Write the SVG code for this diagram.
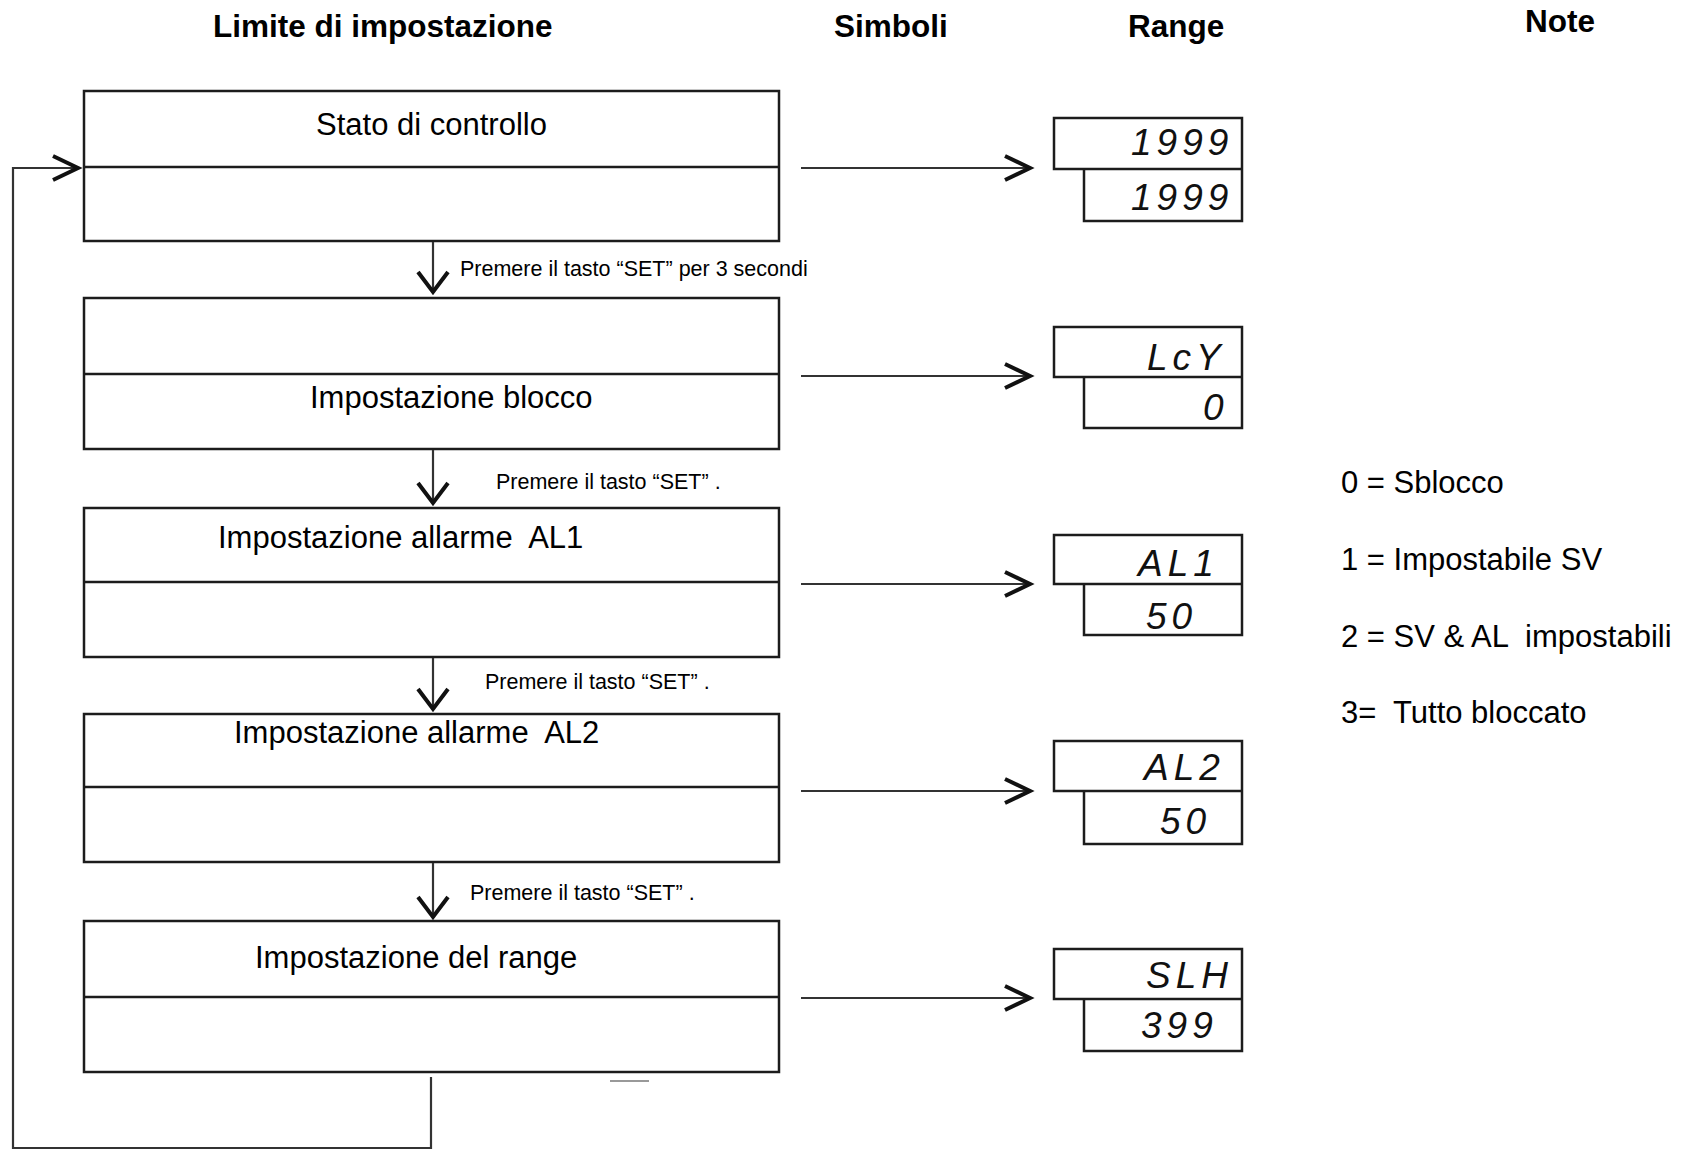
<svg xmlns="http://www.w3.org/2000/svg" width="1696" height="1152" viewBox="0 0 1696 1152">
<style>
.box{fill:none;stroke:#1c1c1c;stroke-width:2.5}
.t{font-family:"Liberation Sans",Arial,sans-serif;fill:#000;white-space:pre}
.hdr{font-weight:bold;font-size:31.5px}
.lbl{font-size:31px}
.sm{font-size:21.5px}
.seg{font-family:"Liberation Sans",Arial,sans-serif;font-style:italic;font-size:37px;letter-spacing:5px;fill:#111}
.conn{fill:none;stroke:#333;stroke-width:2.2}
</style>
<defs>
<marker id="chevD" markerUnits="userSpaceOnUse" markerWidth="50" markerHeight="50" viewBox="-30 -25 50 50" refX="0" refY="0" orient="auto" overflow="visible">
<path d="M-20,-15 L0,0 L-20,15" fill="none" stroke="#111" stroke-width="4"/>
</marker>
<marker id="chevR" markerUnits="userSpaceOnUse" markerWidth="50" markerHeight="50" viewBox="-30 -25 50 50" refX="0" refY="0" orient="auto" overflow="visible">
<path d="M-25,-12 L0,0 L-25,12" fill="none" stroke="#111" stroke-width="4"/>
</marker>
</defs>
<rect width="1696" height="1152" fill="#fff"/>

<g id="headers">
<text class="t hdr" x="213" y="37">Limite di impostazione</text>
<text class="t hdr" x="834" y="37">Simboli</text>
<text class="t hdr" x="1128" y="37">Range</text>
<text class="t hdr" x="1525" y="32">Note</text>
</g>

<g id="node-stato">
<rect class="box" x="84" y="91" width="695" height="150"/>
<line class="box" x1="84" y1="167" x2="779" y2="167"/>
<text class="t lbl" x="316" y="135">Stato di controllo</text>
</g>
<g id="node-blocco">
<rect class="box" x="84" y="298" width="695" height="151"/>
<line class="box" x1="84" y1="374" x2="779" y2="374"/>
<text class="t lbl" x="310" y="408">Impostazione blocco</text>
</g>
<g id="node-al1">
<rect class="box" x="84" y="508" width="695" height="149"/>
<line class="box" x1="84" y1="582" x2="779" y2="582"/>
<text class="t lbl" x="218" y="548" xml:space="preserve">Impostazione allarme  AL1</text>
</g>
<g id="node-al2">
<rect class="box" x="84" y="714" width="695" height="148"/>
<line class="box" x1="84" y1="787" x2="779" y2="787"/>
<text class="t lbl" x="234" y="743" xml:space="preserve">Impostazione allarme  AL2</text>
</g>
<g id="node-range">
<rect class="box" x="84" y="921" width="695" height="151"/>
<line class="box" x1="84" y1="997" x2="779" y2="997"/>
<text class="t lbl" x="255" y="968">Impostazione del range</text>
</g>

<g id="disp-1">
<path class="box" d="M1054,118 H1242 V221 H1084 V169 H1054 Z M1084,169 H1242"/>
<text class="seg" x="1131" y="155">1999</text>
<text class="seg" x="1131" y="210">1999</text>
</g>
<g id="disp-2">
<path class="box" d="M1054,327 H1242 V428 H1084 V377 H1054 Z M1084,377 H1242"/>
<text class="seg" x="1147" y="370">LcY</text>
<text class="seg" x="1203" y="420">0</text>
</g>
<g id="disp-3">
<path class="box" d="M1054,535 H1242 V635 H1084 V584 H1054 Z M1084,584 H1242"/>
<text class="seg" x="1138" y="576">AL1</text>
<text class="seg" x="1146" y="629">50</text>
</g>
<g id="disp-4">
<path class="box" d="M1054,741 H1242 V844 H1084 V791 H1054 Z M1084,791 H1242"/>
<text class="seg" x="1144" y="780">AL2</text>
<text class="seg" x="1160" y="834">50</text>
</g>
<g id="disp-5">
<path class="box" d="M1054,949 H1242 V1051 H1084 V999 H1054 Z M1084,999 H1242"/>
<text class="seg" x="1146" y="988">SLH</text>
<text class="seg" x="1141" y="1038">399</text>
</g>

<g id="notes">
<text class="t lbl" x="1341" y="493">0 = Sblocco</text>
<text class="t lbl" x="1341" y="570">1 = Impostabile SV</text>
<text class="t lbl" x="1341" y="647" xml:space="preserve">2 = SV &amp; AL  impostabili</text>
<text class="t lbl" x="1341" y="723" xml:space="preserve">3=  Tutto bloccato</text>
</g>

<g id="connectors">
<line class="conn" x1="433" y1="242" x2="433" y2="292" marker-end="url(#chevD)"/>
<line class="conn" x1="433" y1="450" x2="433" y2="503" marker-end="url(#chevD)"/>
<line class="conn" x1="433" y1="658" x2="433" y2="709" marker-end="url(#chevD)"/>
<line class="conn" x1="433" y1="863" x2="433" y2="917" marker-end="url(#chevD)"/>
<line class="conn" x1="801" y1="168" x2="1030" y2="168" marker-end="url(#chevR)"/>
<line class="conn" x1="801" y1="376" x2="1030" y2="376" marker-end="url(#chevR)"/>
<line class="conn" x1="801" y1="584" x2="1030" y2="584" marker-end="url(#chevR)"/>
<line class="conn" x1="801" y1="791" x2="1030" y2="791" marker-end="url(#chevR)"/>
<line class="conn" x1="801" y1="998" x2="1030" y2="998" marker-end="url(#chevR)"/>
<path class="conn" d="M431,1077 V1148 H13 V168 H78" marker-end="url(#chevR)"/>
<line x1="610" y1="1081" x2="649" y2="1081" stroke="#999" stroke-width="2"/>
</g>

<g id="connector-labels">
<text class="t sm" x="460" y="276">Premere il tasto “SET” per 3 secondi</text>
<text class="t sm" x="496" y="489">Premere il tasto “SET” .</text>
<text class="t sm" x="485" y="689">Premere il tasto “SET” .</text>
<text class="t sm" x="470" y="900">Premere il tasto “SET” .</text>
</g>
</svg>
